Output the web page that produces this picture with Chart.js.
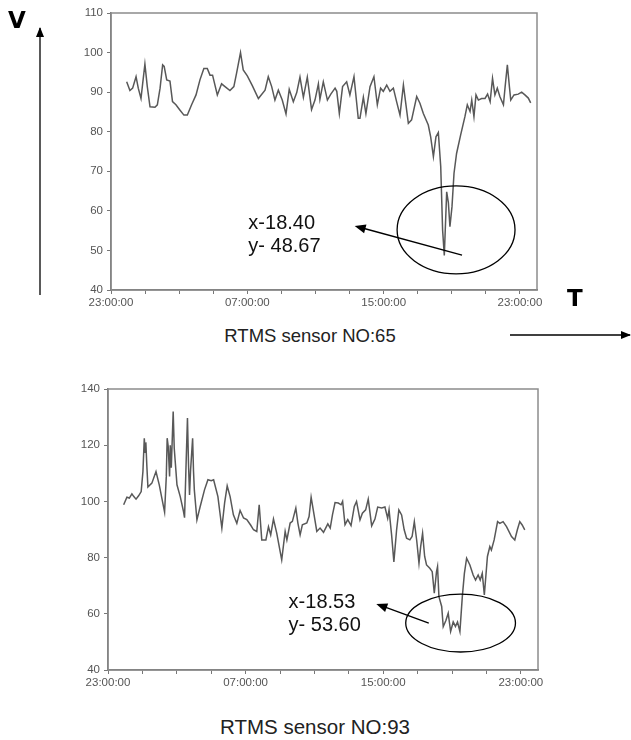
<!DOCTYPE html>
<html lang="en">
<head>
  <meta charset="UTF-8" />
  <title>RTMS sensors</title>
  <script src="https://cdn.jsdelivr.net/npm/chart.js"></script>
  <style>
    * { margin: 0; padding: 0; box-sizing: border-box; }
    body {
      width: 631px;
      height: 740px;
      background: #fff;
      position: relative;
      overflow: hidden;
      font-family: 'Liberation Sans', Arial, sans-serif;
    }
    canvas { position: absolute; left: 0; }
    #chart65 { top: 0; }
    #chart93 { top: 370px; }
    .caption {
      position: absolute;
      color: #222;
      white-space: nowrap;
      transform: translate(-50%, -50%);
    }
    .axis-name {
      position: absolute;
      font-weight: bold;
      font-size: 23px;
      color: #000;
      font-family: 'DejaVu Sans', sans-serif;
    }
    svg { position: absolute; left: 0; top: 0; pointer-events: none; }
  </style>
</head>
<body>
  <canvas id="chart65" width="631" height="320"></canvas>
  <canvas id="chart93" width="631" height="330"></canvas>

  <div class="caption" style="left:310px; top:336px; font-size:18.5px;">RTMS sensor NO:65</div>
  <div class="caption" style="left:315px; top:727px; font-size:20.5px;">RTMS sensor NO:93</div>
  <div class="axis-name" style="left:8px; top:7px;">V</div>
  <div class="axis-name" style="left:567px; top:285px;">T</div>

  <svg width="631" height="740">
    <defs>
      <marker id="head" markerWidth="10" markerHeight="8" refX="9" refY="4" orient="auto" markerUnits="userSpaceOnUse">
        <path d="M0,0 L10,4 L0,8 z" fill="#000" />
      </marker>
    </defs>
    <line x1="40" y1="295" x2="40" y2="28" stroke="#000" stroke-width="1.3" marker-end="url(#head)" />
    <line x1="510" y1="335" x2="630" y2="335" stroke="#000" stroke-width="1.3" marker-end="url(#head)" />
  </svg>

  <script>
    // ---- data (hours after 23:00, speed) ----
    const tickHours = [0, 2, 4, 6, 8, 10, 12, 14, 16, 18, 20, 22, 24];
    const labelHours = [0, 8, 16, 24];
    const timeLabels = ['23:00:00', '07:00:00', '15:00:00', '23:00:00'];

    const hours1 = [0.92,1.11,1.27,1.47,1.60,1.76,1.86,1.99,2.13,2.29,
      2.58,2.72,2.88,3.03,3.12,3.27,3.46,3.61,3.81,4.04,
      4.28,4.48,4.73,4.99,5.22,5.45,5.65,5.81,5.96,6.24,
      6.49,6.69,6.98,7.21,7.37,7.60,7.76,8.00,8.30,8.65,
      9.04,9.23,9.43,9.62,9.82,10.05,10.27,10.46,10.70,10.90,
      11.09,11.29,11.52,11.77,11.97,12.17,12.26,12.46,12.70,12.90,
      13.15,13.25,13.40,13.59,13.83,14.02,14.26,14.51,14.61,14.81,
      14.96,15.20,15.43,15.63,15.82,15.98,16.18,16.37,16.57,16.76,
      16.96,17.16,17.31,17.45,17.64,17.94,18.13,18.33,18.62,18.76,
      18.92,19.07,19.21,19.35,19.46,19.56,19.70,19.80,19.89,20.01,
      20.13,20.28,20.52,20.77,20.91,21.07,21.17,21.30,21.42,21.56,
      21.75,21.95,22.10,22.25,22.39,22.53,22.67,22.82,23.03,23.13,
      23.26,23.38,23.46,23.65,23.90,24.10,24.29,24.49,24.63];
    const speed1 = [92.6,90.4,91.0,93.9,91.0,88.4,92.2,97.1,91.4,86.3,
      86.2,86.8,91.0,96.9,96.5,93.1,92.8,87.6,86.8,85.5,
      84.2,84.2,86.8,89.3,93.1,96.0,96.0,94.3,94.3,89.3,
      92.1,91.4,90.4,91.4,94.8,100.0,95.6,94.1,91.6,88.4,
      90.5,93.9,91.4,88.0,90.5,88.0,84.5,90.7,87.6,89.9,
      93.8,88.7,93.8,85.6,88.0,92.1,88.2,92.6,88.0,89.5,
      91.0,90.2,84.6,91.4,92.6,89.3,93.9,83.4,83.4,88.7,
      84.6,91.4,93.9,86.8,91.0,90.2,91.8,90.2,91.0,87.6,
      84.2,91.8,86.8,82.1,83.0,88.9,87.2,84.6,81.7,78.7,
      73.7,78.7,79.8,71.2,55.2,48.7,64.8,62.0,56.0,61.0,
      69.5,74.5,79.2,83.8,86.8,85.1,88.0,83.8,89.3,88.0,
      88.4,88.4,89.5,87.6,93.5,89.3,91.0,88.9,86.8,91.4,
      96.9,91.4,88.0,89.3,89.5,90.0,89.3,88.5,87.3];

    const hours2 = [0.91,1.10,1.24,1.39,1.49,1.63,1.78,1.93,2.03,2.11,
      2.16,2.20,2.26,2.32,2.55,2.79,2.98,3.13,3.29,3.39,
      3.44,3.50,3.58,3.62,3.68,3.79,3.85,4.01,4.20,4.39,
      4.45,4.55,4.62,4.68,4.74,4.80,4.92,4.97,5.02,5.17,
      5.36,5.61,5.81,6.00,6.14,6.39,6.62,6.78,6.93,7.10,
      7.29,7.49,7.68,7.88,8.07,8.30,8.46,8.65,8.79,8.94,
      9.18,9.33,9.46,9.62,9.81,10.01,10.10,10.30,10.40,10.59,
      10.72,10.92,11.04,11.17,11.30,11.56,11.69,11.81,11.95,12.14,
      12.33,12.53,12.78,12.92,13.05,13.20,13.39,13.55,13.64,13.78,
      13.94,14.13,14.32,14.45,14.65,14.79,14.98,15.13,15.33,15.52,
      15.68,15.91,16.10,16.26,16.34,16.49,16.62,16.78,16.91,17.07,
      17.22,17.36,17.55,17.68,17.81,17.95,18.08,18.18,18.29,18.41,
      18.52,18.71,18.85,18.97,19.10,19.16,19.24,19.40,19.49,19.65,
      19.78,19.92,20.07,20.20,20.32,20.46,20.60,20.72,20.85,21.04,
      21.23,21.37,21.52,21.64,21.76,21.88,22.06,22.20,22.29,22.45,
      22.65,22.78,22.97,23.17,23.46,23.65,23.80,23.94,24.08,24.23];
    const speed2 = [98.8,101.5,101.2,102.7,101.8,100.8,102.0,103.5,110.6,122.5,
      117.5,121.0,112.4,105.1,106.5,110.6,105.9,101.2,96.2,108.9,
      122.5,119.6,108.9,120.0,112.0,132.0,119.0,105.9,101.7,96.4,
      94.2,115.4,129.7,113.5,102.3,111.0,122.5,111.0,104.0,93.4,
      98.2,104.1,107.7,107.4,107.7,101.7,90.5,99.5,105.5,101.7,
      95.2,92.2,96.8,94.1,93.5,91.5,89.9,89.3,98.8,86.3,
      86.3,91.0,88.1,93.7,88.7,82.1,79.2,89.3,86.3,92.3,
      92.9,97.6,92.3,88.1,91.7,92.3,94.6,101.5,96.4,89.3,
      90.5,89.0,92.0,90.5,95.2,99.6,99.4,98.8,100.0,91.7,
      93.5,91.4,98.2,100.0,93.4,95.8,97.0,100.8,91.3,93.7,
      98.0,97.7,98.0,94.0,97.0,88.0,78.5,89.9,97.0,95.2,
      89.9,86.9,86.3,87.5,92.8,86.0,78.0,84.0,88.7,80.4,
      77.4,76.2,75.0,67.3,75.0,76.8,66.1,62.6,55.4,57.7,
      60.2,53.7,57.1,55.5,57.1,53.7,66.1,74.4,79.8,77.4,
      73.8,72.0,73.8,72.0,74.4,66.7,80.4,83.9,82.7,86.3,
      92.8,92.2,92.8,91.0,87.5,86.3,89.9,92.8,91.6,89.9];

    const note1 = ['x-18.40', 'y- 48.67'];
    const note2 = ['x-18.53', 'y- 53.60'];

    // frame round the plot + circled callout with arrow
    const framePlugin = {
      id: 'frame',
      afterDatasetsDraw(chart) {
        const { ctx, chartArea: a } = chart;
        ctx.save();
        ctx.strokeStyle = '#8c8c8c';
        ctx.lineWidth = 1.5;
        ctx.strokeRect(a.left, a.top, a.right - a.left, a.bottom - a.top);
        ctx.restore();
      }
    };

    const calloutPlugin = {
      id: 'callout',
      afterDatasetsDraw(chart, args, o) {
        if (!o || !o.text) return;
        const { ctx } = chart;
        const x = chart.scales.x, y = chart.scales.y;
        const px = v => x.getPixelForValue(v), py = v => y.getPixelForValue(v);
        ctx.save();
        ctx.strokeStyle = '#000';
        ctx.fillStyle = '#000';
        ctx.lineWidth = 1.3;

        // ellipse
        const cx = px(o.ellipse.x), cy = py(o.ellipse.y);
        const rx = px(o.ellipse.x + o.ellipse.rx) - cx;
        const ry = cy - py(o.ellipse.y + o.ellipse.ry);
        ctx.beginPath();
        ctx.ellipse(cx, cy, rx, ry, 0, 0, Math.PI * 2);
        ctx.stroke();

        // arrow
        const x1 = px(o.arrow.from[0]), y1 = py(o.arrow.from[1]);
        const x2 = px(o.arrow.to[0]), y2 = py(o.arrow.to[1]);
        const ang = Math.atan2(y2 - y1, x2 - x1);
        ctx.beginPath();
        ctx.moveTo(x1, y1);
        ctx.lineTo(x2 - 8 * Math.cos(ang), y2 - 8 * Math.sin(ang));
        ctx.stroke();
        ctx.beginPath();
        ctx.moveTo(x2, y2);
        ctx.lineTo(x2 - 11 * Math.cos(ang) + 4.5 * Math.sin(ang), y2 - 11 * Math.sin(ang) - 4.5 * Math.cos(ang));
        ctx.lineTo(x2 - 11 * Math.cos(ang) - 4.5 * Math.sin(ang), y2 - 11 * Math.sin(ang) + 4.5 * Math.cos(ang));
        ctx.closePath();
        ctx.fill();

        // text
        ctx.font = '20px "Liberation Sans", Arial, sans-serif';
        ctx.fillStyle = '#111';
        ctx.textAlign = 'left';
        ctx.textBaseline = 'middle';
        o.text.forEach((t, i) => ctx.fillText(t, px(o.textX), py(o.textY[i])));
        ctx.restore();
      }
    };

    const tickFont = { family: "'Liberation Sans', Arial, sans-serif", size: 11.5 };

    function makeChart(id, hours, speed, yMax, yStep, pad, callout) {
      const points = hours.map((h, i) => ({ x: h, y: speed[i] }));
      return new Chart(document.getElementById(id), {
        type: 'line',
        data: {
          datasets: [{
            data: points,
            borderColor: '#585858',
            borderWidth: 1.5,
            pointRadius: 0,
            tension: 0,
            fill: false
          }]
        },
        options: {
          responsive: false,
          animation: false,
          events: [],
          layout: { padding: pad },
          plugins: {
            legend: { display: false },
            tooltip: { enabled: false },
            callout: callout
          },
          scales: {
            x: {
              type: 'linear',
              min: 0,
              max: 25,
              afterBuildTicks: axis => { axis.ticks = tickHours.map(v => ({ value: v })); },
              afterFit: axis => { axis.height = 22; },
              ticks: {
                autoSkip: false,
                maxRotation: 0,
                padding: 2,
                color: '#555',
                font: tickFont,
                callback: v => {
                  const k = labelHours.indexOf(v);
                  return k >= 0 ? timeLabels[k] : '';
                }
              },
              grid: { drawOnChartArea: false, drawTicks: true, tickLength: 4, color: '#777' },
              border: { display: true, color: '#6e6e6e', width: 1.5 }
            },
            y: {
              min: 40,
              max: yMax,
              afterFit: axis => { axis.width = 40; },
              ticks: { stepSize: yStep, padding: 4, color: '#555', font: tickFont },
              grid: { drawOnChartArea: false, drawTicks: true, tickLength: 4, color: '#777' },
              border: { display: true, color: '#6e6e6e', width: 1.5 }
            }
          }
        },
        plugins: [framePlugin, calloutPlugin]
      });
    }

    makeChart('chart65', hours1, speed1, 110, 10,
      { left: 71, right: 94, top: 13, bottom: 8 },
      {
        ellipse: { x: 20.25, y: 55.2, rx: 3.46, ry: 11.1 },
        arrow: { from: [20.6, 48.8], to: [14.3, 56.2] },
        text: note1, textX: 8.06, textY: [56.7, 50.9]
      });

    makeChart('chart93', hours2, speed2, 140, 20,
      { left: 68, right: 93, top: 19, bottom: 8 },
      {
        ellipse: { x: 20.5, y: 56.7, rx: 3.19, ry: 10.3 },
        arrow: { from: [18.65, 56.7], to: [15.6, 63.5] },
        text: note2, textX: 10.5, textY: [64.2, 56.0]
      });
  </script>
</body>
</html>
